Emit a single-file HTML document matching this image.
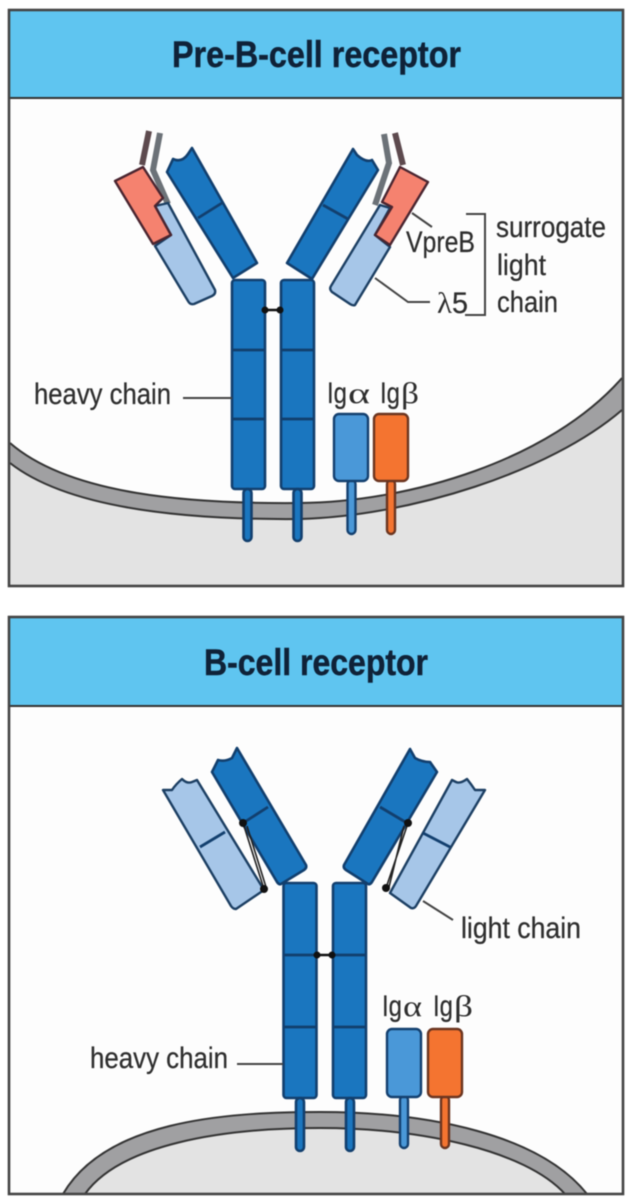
<!DOCTYPE html>
<html><head><meta charset="utf-8"><style>
html,body{margin:0;padding:0;background:#fff}
svg{display:block;filter:blur(.5px)}
text{font-family:"Liberation Sans",sans-serif;fill:#2e2e2e}
.t{font-weight:700;font-size:37px;fill:#0f2238;stroke:#0f2238;stroke-width:.5}
.l{font-size:30px;stroke:#2e2e2e;stroke-width:.25}
.g{font-family:"Liberation Serif",serif;font-size:30px}
.h{fill:#1a76bf;stroke:#123f6e;stroke-width:2.6;stroke-linejoin:round}
.d{stroke:#123f6e;stroke-width:2.8;fill:none}
.lt{fill:#a6c6e8;stroke:#1c3f63;stroke-width:2.4;stroke-linejoin:round}
.s{fill:#f5826f;stroke:#4a2530;stroke-width:2.4;stroke-linejoin:round}
.ln{stroke:#444;stroke-width:2;fill:none}
.a{fill:#4a98d8;stroke:#14406f;stroke-width:2.4}
.b{fill:#f47430;stroke:#6b3520;stroke-width:2.4}
.m{fill:none;stroke:#333;stroke-width:2}
</style></head><body>
<svg width="631" height="1200" viewBox="0 0 631 1200" xmlns="http://www.w3.org/2000/svg">
<rect width="631" height="1200" fill="#fff"/>

<!-- PANEL 1 -->
<rect x="9" y="10" width="614" height="576" fill="#fdfdfd"/>
<path d="M10 463C70 510 190 520 300 519C410 516 550 472 622 410V585H10Z" fill="#e3e3e3"/>
<path d="M10 443C70 495 190 504 300 503C410 502 550 460 622 378V410C550 472 410 516 300 519C190 520 70 510 10 463Z" fill="#a0a0a2"/>
<path class="m" d="M10 443C70 495 190 504 300 503C410 502 550 460 622 378"/>
<path class="m" d="M10 463C70 510 190 520 300 519C410 516 550 472 622 410"/>
<rect x="9" y="10" width="614" height="88" fill="#5fc5f0"/>
<line x1="9" y1="98" x2="623" y2="98" stroke="#333" stroke-width="2"/>
<rect x="9" y="10" width="614" height="576" fill="none" stroke="#444" stroke-width="2.6"/>
<text class="t" x="172" y="67" textLength="289" lengthAdjust="spacingAndGlyphs">Pre-B-cell receptor</text>

<!-- strands left -->
<path d="M149 131L142 165" stroke="#5d4a4e" stroke-width="6" fill="none"/>
<path d="M160 133L153 170L168 204" stroke="#6c7278" stroke-width="6" fill="none"/>
<!-- strands right -->
<path d="M395 133L403 165" stroke="#5d4a4e" stroke-width="6" fill="none"/>
<path d="M384 134L389 163L375 205" stroke="#6c7278" stroke-width="6" fill="none"/>

<!-- left arm -->
<path class="h" d="M167 172L173 159Q182 163 188 154L192 148L257 263L233 278Z"/>
<path class="d" d="M198 218L222 203"/>
<path class="lt" d="M155 206L168 203L215 290Q216 294 212 296L194 304Q190 305 188 301L155 246L171 235Z"/>
<path class="s" d="M115 181L143 167L163 198L155 206L171 235L153 244Z"/>
<!-- right arm -->
<path class="h" d="M353 149L357 155Q366 163 372 160L378 170L312 279L287 263Z"/>
<path class="d" d="M323 205L348 219"/>
<path class="lt" d="M380 205L390 208L375 235L390 247L355 305Q353 306 350 304L332 292Q329 289 331 286Z"/>
<path class="s" d="M400 167L428 182L390 245L375 235L392 207L382 202Z"/>

<!-- heavy chains -->
<rect class="h" x="232" y="280" width="33" height="209" rx="3"/>
<rect class="h" x="281" y="280" width="33" height="209" rx="3"/>
<path class="d" d="M232 350H265M232 419H265M281 350H314M281 419H314"/>
<rect class="h" x="243.500" y="489" width="8" height="52" rx="4"/>
<rect class="h" x="293.500" y="489" width="8" height="52" rx="4"/>
<path d="M265 310H281" stroke="#111" stroke-width="2.5"/>
<circle cx="265" cy="310" r="3.500" fill="#111"/><circle cx="280" cy="310" r="3.500" fill="#111"/>

<!-- Ig a/b -->
<rect class="a" x="347.500" y="480" width="8" height="54" rx="4"/>
<rect class="a" x="334" y="414" width="34" height="67" rx="5"/>
<rect class="b" x="387" y="480" width="8" height="54" rx="4"/>
<rect class="b" x="374" y="414" width="34" height="67" rx="5"/>

<!-- labels -->
<text class="l" x="34" y="404" textLength="137" lengthAdjust="spacingAndGlyphs">heavy chain</text>
<path class="ln" d="M183 398H232"/>
<text class="l" x="327" y="403" textLength="20" lengthAdjust="spacingAndGlyphs">Ig</text><text class="g" x="348" y="403" textLength="22" lengthAdjust="spacingAndGlyphs">α</text>
<text class="l" x="380" y="403" textLength="20" lengthAdjust="spacingAndGlyphs">Ig</text><text class="g" x="401" y="403" textLength="18" lengthAdjust="spacingAndGlyphs">β</text>
<text class="l" x="406" y="252" textLength="69" lengthAdjust="spacingAndGlyphs">VpreB</text>
<text class="g" x="437" y="313" textLength="15" lengthAdjust="spacingAndGlyphs">λ</text><text class="l" x="452" y="313" textLength="16" lengthAdjust="spacingAndGlyphs">5</text>
<text class="l" x="496" y="237" textLength="110" lengthAdjust="spacingAndGlyphs">surrogate</text>
<text class="l" x="497" y="275" textLength="49" lengthAdjust="spacingAndGlyphs">light</text>
<text class="l" x="497" y="312" textLength="61" lengthAdjust="spacingAndGlyphs">chain</text>
<path class="ln" d="M412 213L432 227M375 278L408 302H430M466 214H485V315H465"/>

<!-- PANEL 2 -->
<rect x="9" y="617" width="614" height="577" fill="#fdfdfd"/>
<path d="M85 1194C120 1145 220 1128 320 1128C420 1128 525 1150 565 1194Z" fill="#e3e3e3"/>
<path d="M63 1194C105 1122 220 1112 320 1112C430 1112 540 1135 587 1194H565C525 1150 420 1128 320 1128C220 1128 120 1145 85 1194Z" fill="#a0a0a2"/>
<path class="m" d="M63 1194C105 1122 220 1112 320 1112C430 1112 540 1135 587 1194"/>
<path class="m" d="M85 1194C120 1145 220 1128 320 1128C420 1128 525 1150 565 1194"/>
<rect x="9" y="617" width="614" height="89" fill="#5fc5f0"/>
<line x1="9" y1="706" x2="623" y2="706" stroke="#333" stroke-width="2"/>
<rect x="9" y="617" width="614" height="577" fill="none" stroke="#444" stroke-width="2.6"/>
<text class="t" x="204" y="675" textLength="224" lengthAdjust="spacingAndGlyphs">B-cell receptor</text>

<!-- left arm -->
<path class="lt" d="M163 790L172 790Q176 784 182 779Q187 784 192 782L197 780L264 890L236 909Q233 909 231 906Z"/>
<path class="d" d="M200 847L225 832"/>
<path class="h" d="M212 772L218 760Q225 762 232 758L237 748L306 865Q307 868 304 870L281 884Q279 885 277 882Z"/>
<path class="d" d="M243 823L268 807"/>
<path d="M243 823L264 889M247 826L266 887" stroke="#222" stroke-width="1.6" fill="none"/>
<circle cx="243" cy="823" r="4" fill="#111"/><circle cx="264" cy="889" r="4" fill="#111"/>
<!-- right arm -->
<path class="lt" d="M485 790L475 790Q471 784 467 779Q460 784 456 782L452 780L390 893L411 908Q414 909 416 906Z"/>
<path class="d" d="M423 833L450 847"/>
<path class="h" d="M437 772L430 762Q422 762 415 758L410 749L344 865Q343 868 346 870L368 884Q370 885 372 882Z"/>
<path class="d" d="M380 807L407 823"/>
<path d="M408 823L386 888M404 826L389 887" stroke="#222" stroke-width="1.6" fill="none"/>
<circle cx="408" cy="823" r="4" fill="#111"/><circle cx="386" cy="888" r="4" fill="#111"/>

<!-- heavy chains -->
<rect class="h" x="283.500" y="883" width="33" height="215" rx="3"/>
<rect class="h" x="333" y="883" width="33" height="215" rx="3"/>
<path class="d" d="M283 955H316M283 1027H316M333 955H366M333 1027H366"/>
<rect class="h" x="296" y="1098" width="8" height="53" rx="4"/>
<rect class="h" x="346" y="1098" width="8" height="53" rx="4"/>
<path d="M316 955H333" stroke="#111" stroke-width="2.5"/>
<circle cx="317" cy="955" r="3.500" fill="#111"/><circle cx="332" cy="955" r="3.500" fill="#111"/>

<!-- Ig a/b -->
<rect class="a" x="400" y="1096" width="8" height="52" rx="4"/>
<rect class="a" x="387" y="1029" width="34" height="68" rx="5"/>
<rect class="b" x="441" y="1096" width="8" height="52" rx="4"/>
<rect class="b" x="428" y="1029" width="34" height="68" rx="5"/>

<!-- labels -->
<text class="l" x="90" y="1068" textLength="138" lengthAdjust="spacingAndGlyphs">heavy chain</text>
<path class="ln" d="M237 1064H283"/>
<text class="l" x="382" y="1016" textLength="20" lengthAdjust="spacingAndGlyphs">Ig</text><text class="g" x="403" y="1016" textLength="19" lengthAdjust="spacingAndGlyphs">α</text>
<text class="l" x="433" y="1016" textLength="20" lengthAdjust="spacingAndGlyphs">Ig</text><text class="g" x="454" y="1016" textLength="19" lengthAdjust="spacingAndGlyphs">β</text>
<text class="l" x="461" y="938" textLength="120" lengthAdjust="spacingAndGlyphs">light chain</text>
<path class="ln" d="M423 901L453 920"/>
</svg>
</body></html>
